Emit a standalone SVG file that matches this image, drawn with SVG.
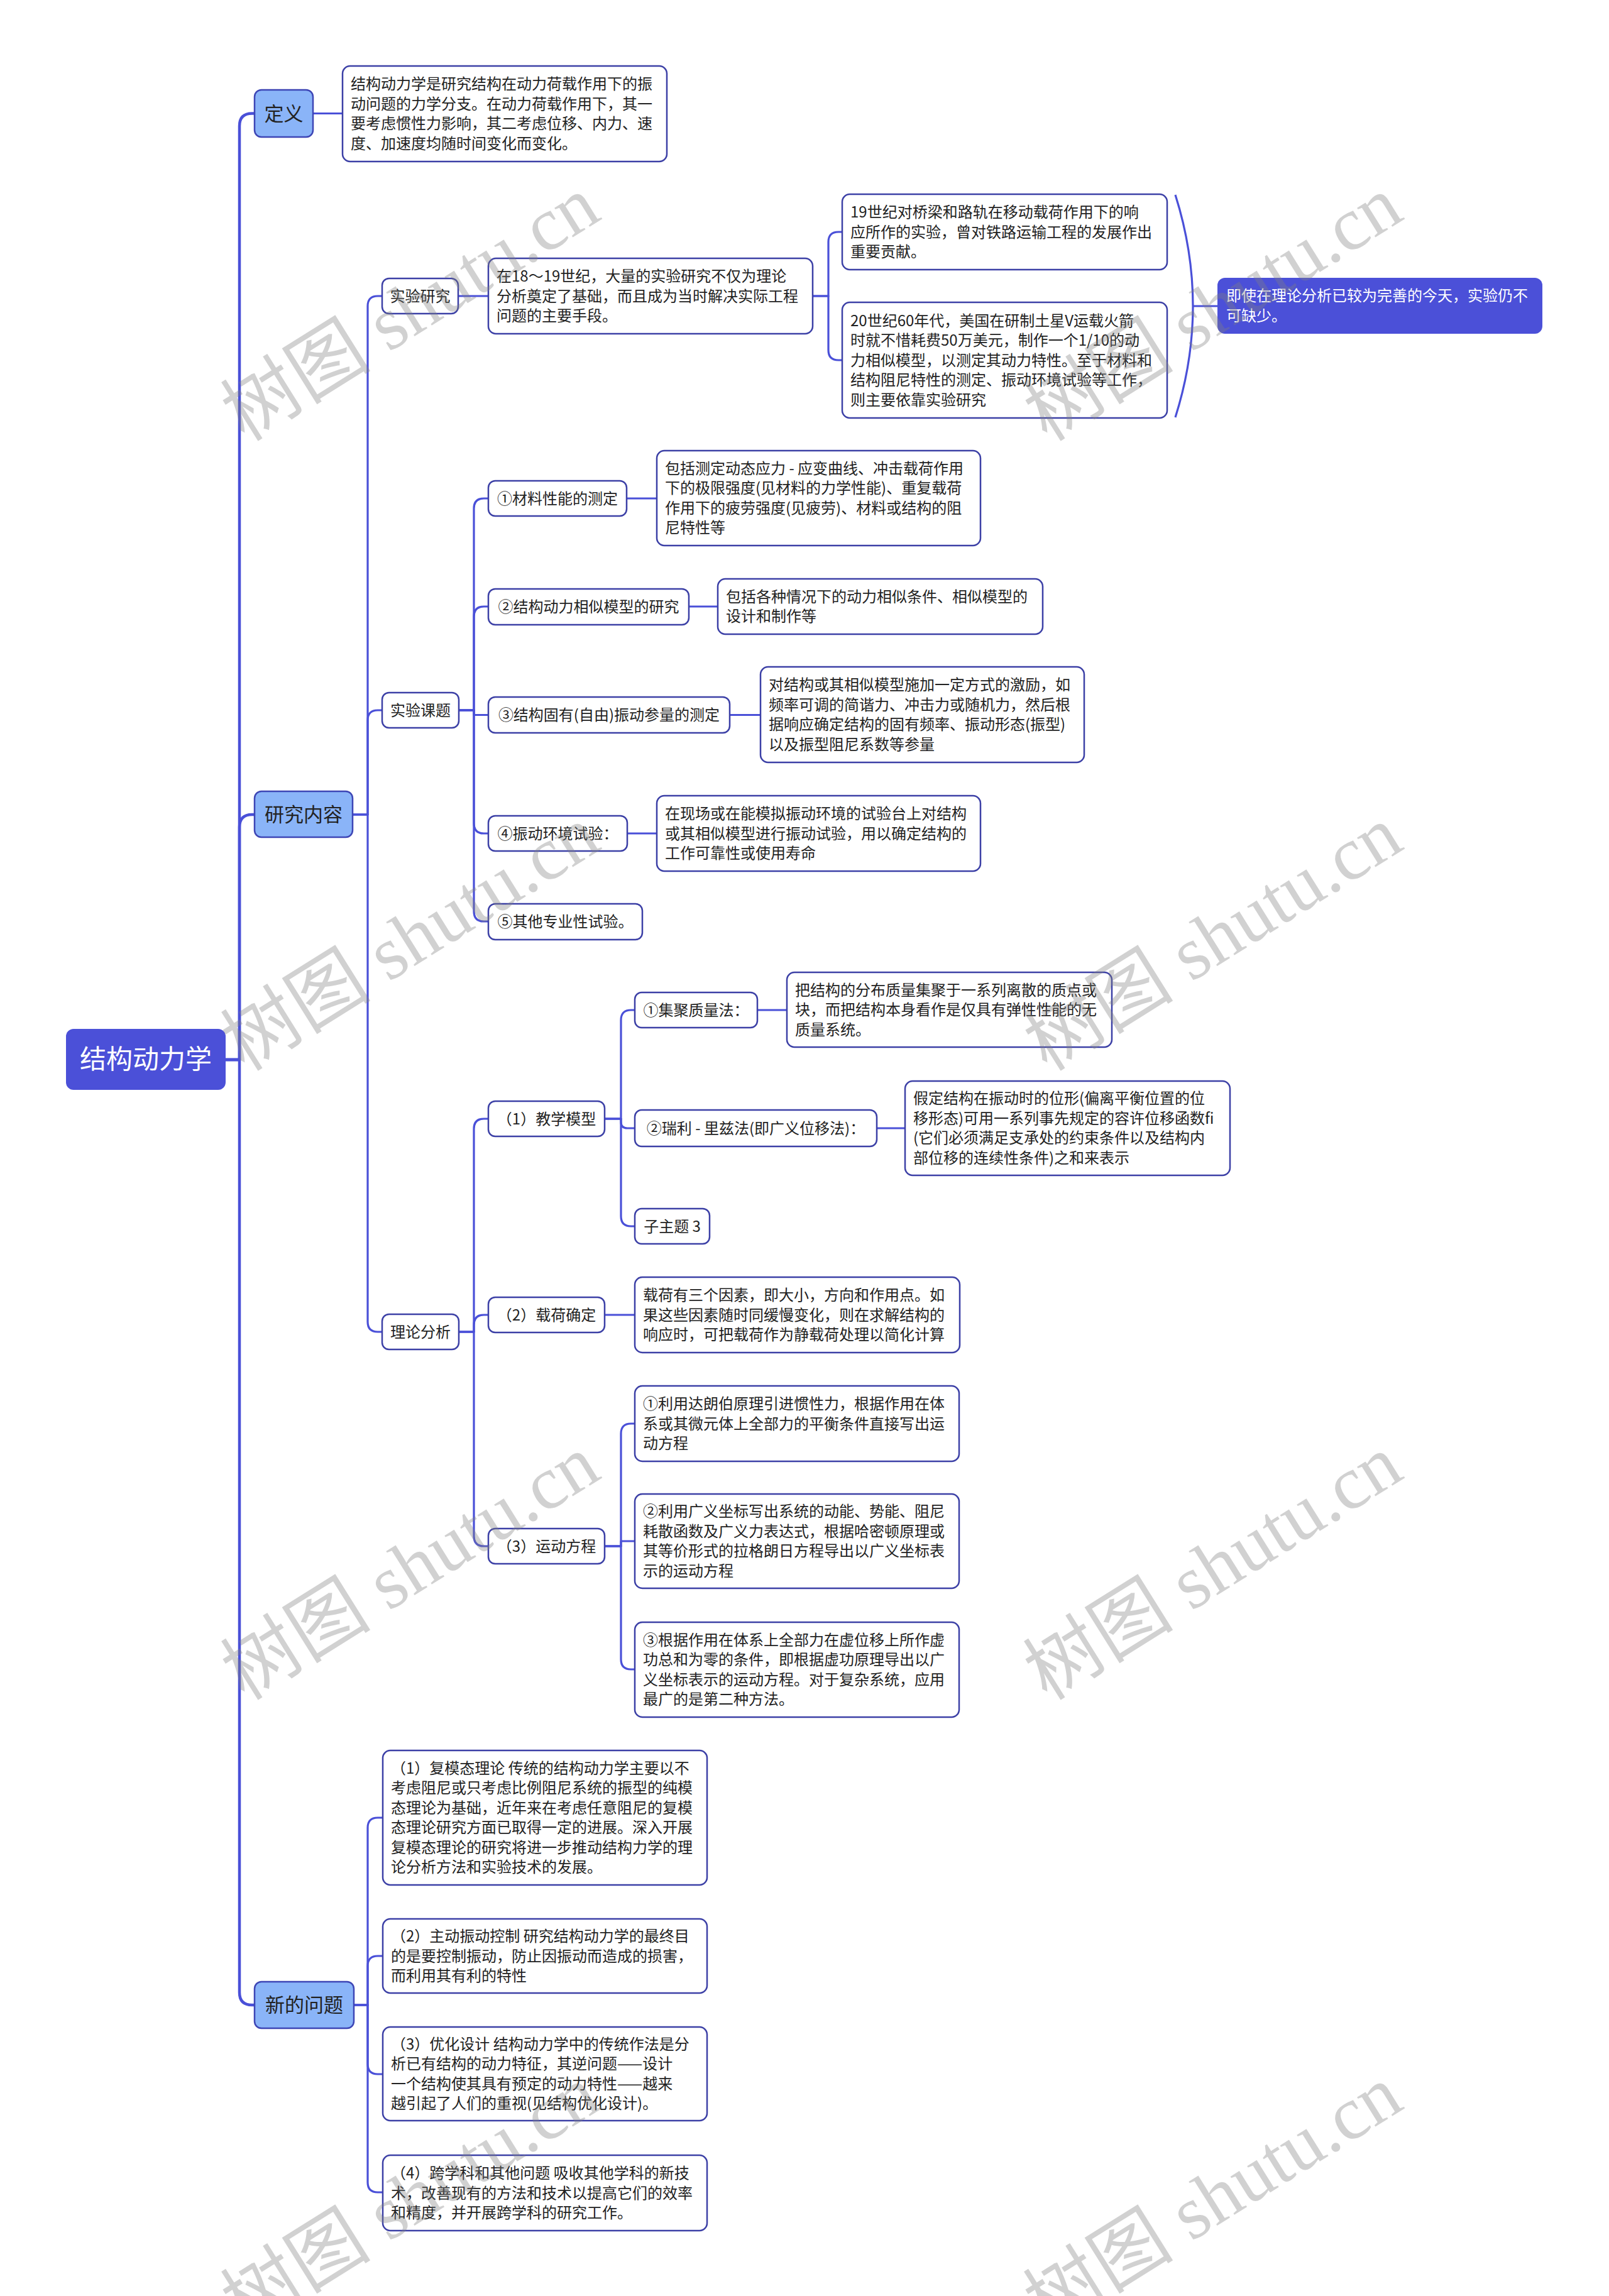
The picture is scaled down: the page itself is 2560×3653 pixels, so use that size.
<svg xmlns="http://www.w3.org/2000/svg" width="2560" height="3653" viewBox="0 0 2560 3653">
<style>
.bg{fill:#ffffff}
.n1{fill:#8ab4f8;stroke:#3d45b5;stroke-width:2.5}
.nw{fill:#ffffff;stroke:#3c40a6;stroke-width:2.5}
.nr{fill:#4b50d8}
.t{font-family:"Noto Sans CJK SC","Noto Sans",sans-serif;font-size:24px;fill:#222222}
.tw{fill:#ffffff}
.tc{text-anchor:middle}
.t1{font-size:31px}
.t0{font-size:42px}
.c{fill:none;stroke:#4a50d8;stroke-width:3.2;stroke-linejoin:round}
.c0{fill:none;stroke:#4a50d8;stroke-width:4.5;stroke-linejoin:round}
.wm{font-family:"Liberation Serif","Noto Sans CJK SC",serif;font-size:120px;fill:#808080;fill-opacity:0.36}
</style>
<rect class="bg" x="0" y="0" width="2560" height="3653"/>
<g id="connectors">
<path class="c0" d="M359,1686 H381 V200.5 Q381,180.5 401,180.5 H405"/>
<path class="c0" d="M359,1686 H381 V1316 Q381,1296 401,1296 H405"/>
<path class="c0" d="M359,1686 H381 V3170 Q381,3190 401,3190 H405"/>
<path class="c" d="M498,180.5 H545"/>
<path class="c" d="M561,1296 H585 V487 Q585,471 601,471 H608"/>
<path class="c" d="M561,1296 H585 V1146 Q585,1130 601,1130 H608"/>
<path class="c" d="M561,1296 H585 V2103 Q585,2119 601,2119 H608"/>
<path class="c" d="M729,471 H777"/>
<path class="c" d="M1293,471 H1318 V385 Q1318,369 1334,369 H1340"/>
<path class="c" d="M1293,471 H1318 V557 Q1318,573 1334,573 H1340"/>
<path class="c" d="M1870,310 Q1926,487 1870,664"/>
<path class="c" d="M1898,487 H1937"/>
<path class="c" d="M730,1130 H754 V809 Q754,793 770,793 H777"/>
<path class="c" d="M730,1130 H754 V981 Q754,965 770,965 H777"/>
<path class="c" d="M730,1130 H754 V1137.5 H777"/>
<path class="c" d="M730,1130 H754 V1310 Q754,1326 770,1326 H777"/>
<path class="c" d="M730,1130 H754 V1450 Q754,1466 770,1466 H777"/>
<path class="c" d="M997,793 H1045"/>
<path class="c" d="M1096,965 H1142"/>
<path class="c" d="M1161,1137.5 H1210"/>
<path class="c" d="M998,1326 H1045"/>
<path class="c" d="M730,2119 H754 V1796 Q754,1780 770,1780 H777"/>
<path class="c" d="M730,2119 H754 V2108 Q754,2092 770,2092 H777"/>
<path class="c" d="M730,2119 H754 V2444 Q754,2460 770,2460 H777"/>
<path class="c" d="M962,1780 H988 V1623 Q988,1607 1004,1607 H1010"/>
<path class="c" d="M962,1780 H988 V1785 Q988,1795 998,1795 H1010"/>
<path class="c" d="M962,1780 H988 V1935 Q988,1951 1004,1951 H1010"/>
<path class="c" d="M1205,1607 H1252"/>
<path class="c" d="M1395,1795 H1440"/>
<path class="c" d="M962,2092 H1010"/>
<path class="c" d="M962,2460 H988 V2281 Q988,2265 1004,2265 H1010"/>
<path class="c" d="M962,2460 H988 V2452 H1010"/>
<path class="c" d="M962,2460 H988 V2640 Q988,2656 1004,2656 H1010"/>
<path class="c" d="M563,3190 H585 V2908 Q585,2892 601,2892 H609"/>
<path class="c" d="M563,3190 H585 V3128 Q585,3112 601,3112 H609"/>
<path class="c" d="M563,3190 H585 V3284 Q585,3300 601,3300 H609"/>
<path class="c" d="M563,3190 H585 V3472 Q585,3488 601,3488 H609"/>
</g>

<g id="root">
<rect class="nr" x="105" y="1637" width="254" height="97" rx="12"/>
<text class="t t0 tw tc" x="232" y="1700">结构动力学</text>
</g>

<g id="n-dingyi">
<rect class="n1" x="405" y="143" width="93" height="75" rx="11"/>
<text class="t t1 tc" x="451.5" y="191.5">定义</text>
</g>
<g id="n-dingyi-text">
<rect class="nw" x="545" y="105" width="516" height="152" rx="12"/>
<text class="t" x="558" y="142">结构动力学是研究结构在动力荷载作用下的振</text>
<text class="t" x="558" y="174">动问题的力学分支。在动力荷载作用下，其一</text>
<text class="t" x="558" y="205">要考虑惯性力影响，其二考虑位移、内力、速</text>
<text class="t" x="558" y="237">度、加速度均随时间变化而变化。</text>
</g>

<g id="n-yanjiu">
<rect class="n1" x="405" y="1259" width="156" height="73" rx="11"/>
<text class="t t1 tc" x="483" y="1307">研究内容</text>
</g>

<g id="n-shiyanyanjiu">
<rect class="nw" x="608" y="443" width="121" height="56" rx="11"/>
<text class="t tc" x="668.5" y="479.5">实验研究</text>
</g>
<g id="n-shiyanyanjiu-text">
<rect class="nw" x="777" y="411" width="516" height="120" rx="12"/>
<text class="t" x="790" y="448">在18～19世纪，大量的实验研究不仅为理论</text>
<text class="t" x="790" y="480">分析奠定了基础，而且成为当时解决实际工程</text>
<text class="t" x="790" y="511">问题的主要手段。</text>
</g>
<g id="n-19c">
<rect class="nw" x="1340" y="309" width="517" height="120" rx="12"/>
<text class="t" x="1353" y="346">19世纪对桥梁和路轨在移动载荷作用下的响</text>
<text class="t" x="1353" y="378">应所作的实验，曾对铁路运输工程的发展作出</text>
<text class="t" x="1353" y="409">重要贡献。</text>
</g>
<g id="n-20c">
<rect class="nw" x="1340" y="481" width="517" height="184" rx="12"/>
<text class="t" x="1353" y="518.5">20世纪60年代，美国在研制土星V运载火箭</text>
<text class="t" x="1353" y="550">时就不惜耗费50万美元，制作一个1/10的动</text>
<text class="t" x="1353" y="581.5">力相似模型，以测定其动力特性。至于材料和</text>
<text class="t" x="1353" y="613">结构阻尼特性的测定、振动环境试验等工作，</text>
<text class="t" x="1353" y="644.5">则主要依靠实验研究</text>
</g>
<g id="n-summary">
<rect class="nr" x="1937" y="442" width="517" height="89" rx="12"/>
<text class="t tw" x="1951" y="479">即使在理论分析已较为完善的今天，实验仍不</text>
<text class="t tw" x="1951" y="511">可缺少。</text>
</g>

<g id="n-keti">
<rect class="nw" x="608" y="1102" width="122" height="56" rx="11"/>
<text class="t tc" x="669" y="1138.5">实验课题</text>
</g>
<g id="n-k1">
<rect class="nw" x="777" y="765" width="220" height="56" rx="11"/>
<text class="t tc" x="887" y="801.5">①材料性能的测定</text>
</g>
<g id="n-k1-text">
<rect class="nw" x="1045" y="717" width="515" height="151" rx="12"/>
<text class="t" x="1058" y="754">包括测定动态应力 - 应变曲线、冲击载荷作用</text>
<text class="t" x="1058" y="785">下的极限强度(见材料的力学性能)、重复载荷</text>
<text class="t" x="1058" y="817">作用下的疲劳强度(见疲劳)、材料或结构的阻</text>
<text class="t" x="1058" y="848">尼特性等</text>
</g>
<g id="n-k2">
<rect class="nw" x="777" y="937" width="319" height="57" rx="11"/>
<text class="t tc" x="936.5" y="973.5">②结构动力相似模型的研究</text>
</g>
<g id="n-k2-text">
<rect class="nw" x="1142" y="921" width="517" height="88" rx="12"/>
<text class="t" x="1155" y="958">包括各种情况下的动力相似条件、相似模型的</text>
<text class="t" x="1155" y="989">设计和制作等</text>
</g>
<g id="n-k3">
<rect class="nw" x="777" y="1109" width="384" height="57" rx="11"/>
<text class="t tc" x="969" y="1146">③结构固有(自由)振动参量的测定</text>
</g>
<g id="n-k3-text">
<rect class="nw" x="1210" y="1061" width="515" height="152" rx="12"/>
<text class="t" x="1223" y="1098">对结构或其相似模型施加一定方式的激励，如</text>
<text class="t" x="1223" y="1130">频率可调的简谐力、冲击力或随机力，然后根</text>
<text class="t" x="1223" y="1161">据响应确定结构的固有频率、振动形态(振型)</text>
<text class="t" x="1223" y="1193">以及振型阻尼系数等参量</text>
</g>
<g id="n-k4">
<rect class="nw" x="777" y="1298" width="221" height="56" rx="11"/>
<text class="t tc" x="887.5" y="1334.5">④振动环境试验：</text>
</g>
<g id="n-k4-text">
<rect class="nw" x="1045" y="1266" width="515" height="120" rx="12"/>
<text class="t" x="1058" y="1303">在现场或在能模拟振动环境的试验台上对结构</text>
<text class="t" x="1058" y="1335">或其相似模型进行振动试验，用以确定结构的</text>
<text class="t" x="1058" y="1366">工作可靠性或使用寿命</text>
</g>
<g id="n-k5">
<rect class="nw" x="777" y="1438" width="245" height="57" rx="11"/>
<text class="t tc" x="899.5" y="1475">⑤其他专业性试验。</text>
</g>

<g id="n-lilun">
<rect class="nw" x="608" y="2091" width="122" height="56" rx="11"/>
<text class="t tc" x="669" y="2127.5">理论分析</text>
</g>
<g id="n-l1">
<rect class="nw" x="777" y="1752" width="185" height="56" rx="11"/>
<text class="t tc" x="869.5" y="1788.5">（1）教学模型</text>
</g>
<g id="n-l1a">
<rect class="nw" x="1010" y="1579" width="195" height="56" rx="11"/>
<text class="t tc" x="1107.5" y="1615.5">①集聚质量法：</text>
</g>
<g id="n-l1a-text">
<rect class="nw" x="1252" y="1547" width="517" height="119" rx="12"/>
<text class="t" x="1265" y="1583.5">把结构的分布质量集聚于一系列离散的质点或</text>
<text class="t" x="1265" y="1615">块，而把结构本身看作是仅具有弹性性能的无</text>
<text class="t" x="1265" y="1646.5">质量系统。</text>
</g>
<g id="n-l1b">
<rect class="nw" x="1010" y="1766" width="385" height="58" rx="11"/>
<text class="t tc" x="1202.5" y="1803.5">②瑞利 - 里兹法(即广义位移法)：</text>
</g>
<g id="n-l1b-text">
<rect class="nw" x="1440" y="1720" width="517" height="150" rx="12"/>
<text class="t" x="1453" y="1756">假定结构在振动时的位形(偏离平衡位置的位</text>
<text class="t" x="1453" y="1788">移形态)可用一系列事先规定的容许位移函数fi</text>
<text class="t" x="1453" y="1819">(它们必须满足支承处的约束条件以及结构内</text>
<text class="t" x="1453" y="1851">部位移的连续性条件)之和来表示</text>
</g>
<g id="n-l1c">
<rect class="nw" x="1010" y="1923" width="119" height="56" rx="11"/>
<text class="t tc" x="1069.5" y="1959.5">子主题 3</text>
</g>
<g id="n-l2">
<rect class="nw" x="777" y="2064" width="185" height="56" rx="11"/>
<text class="t tc" x="869.5" y="2100.5">（2）载荷确定</text>
</g>
<g id="n-l2-text">
<rect class="nw" x="1010" y="2032" width="517" height="120" rx="12"/>
<text class="t" x="1023" y="2069">载荷有三个因素，即大小，方向和作用点。如</text>
<text class="t" x="1023" y="2101">果这些因素随时同缓慢变化，则在求解结构的</text>
<text class="t" x="1023" y="2132">响应时，可把载荷作为静载荷处理以简化计算</text>
</g>
<g id="n-l3">
<rect class="nw" x="777" y="2432" width="185" height="56" rx="11"/>
<text class="t tc" x="869.5" y="2468.5">（3）运动方程</text>
</g>
<g id="n-l3a">
<rect class="nw" x="1010" y="2205" width="516" height="120" rx="12"/>
<text class="t" x="1023" y="2242">①利用达朗伯原理引进惯性力，根据作用在体</text>
<text class="t" x="1023" y="2274">系或其微元体上全部力的平衡条件直接写出运</text>
<text class="t" x="1023" y="2305">动方程</text>
</g>
<g id="n-l3b">
<rect class="nw" x="1010" y="2377" width="516" height="150" rx="12"/>
<text class="t" x="1023" y="2413">②利用广义坐标写出系统的动能、势能、阻尼</text>
<text class="t" x="1023" y="2445">耗散函数及广义力表达式，根据哈密顿原理或</text>
<text class="t" x="1023" y="2476">其等价形式的拉格朗日方程导出以广义坐标表</text>
<text class="t" x="1023" y="2508">示的运动方程</text>
</g>
<g id="n-l3c">
<rect class="nw" x="1010" y="2581" width="516" height="151" rx="12"/>
<text class="t" x="1023" y="2618">③根据作用在体系上全部力在虚位移上所作虚</text>
<text class="t" x="1023" y="2649">功总和为零的条件，即根据虚功原理导出以广</text>
<text class="t" x="1023" y="2681">义坐标表示的运动方程。对于复杂系统，应用</text>
<text class="t" x="1023" y="2712">最广的是第二种方法。</text>
</g>

<g id="n-xin">
<rect class="n1" x="405" y="3153" width="158" height="74" rx="11"/>
<text class="t t1 tc" x="484" y="3201">新的问题</text>
</g>
<g id="n-x1">
<rect class="nw" x="609" y="2785" width="516" height="214" rx="12"/>
<text class="t" x="622" y="2822">（1）复模态理论 传统的结构动力学主要以不</text>
<text class="t" x="622" y="2853">考虑阻尼或只考虑比例阻尼系统的振型的纯模</text>
<text class="t" x="622" y="2885">态理论为基础，近年来在考虑任意阻尼的复模</text>
<text class="t" x="622" y="2916">态理论研究方面已取得一定的进展。深入开展</text>
<text class="t" x="622" y="2948">复模态理论的研究将进一步推动结构力学的理</text>
<text class="t" x="622" y="2979">论分析方法和实验技术的发展。</text>
</g>
<g id="n-x2">
<rect class="nw" x="609" y="3053" width="516" height="118" rx="12"/>
<text class="t" x="622" y="3089">（2）主动振动控制 研究结构动力学的最终目</text>
<text class="t" x="622" y="3121">的是要控制振动，防止因振动而造成的损害，</text>
<text class="t" x="622" y="3152">而利用其有利的特性</text>
</g>
<g id="n-x3">
<rect class="nw" x="609" y="3225" width="516" height="149" rx="12"/>
<text class="t" x="622" y="3261">（3）优化设计 结构动力学中的传统作法是分</text>
<text class="t" x="622" y="3292">析已有结构的动力特征，其逆问题——设计</text>
<text class="t" x="622" y="3324">一个结构使其具有预定的动力特性——越来</text>
<text class="t" x="622" y="3355">越引起了人们的重视(见结构优化设计)。</text>
</g>
<g id="n-x4">
<rect class="nw" x="609" y="3429" width="516" height="120" rx="12"/>
<text class="t" x="622" y="3466">（4）跨学科和其他问题 吸收其他学科的新技</text>
<text class="t" x="622" y="3498">术，改善现有的方法和技术以提高它们的效率</text>
<text class="t" x="622" y="3529">和精度，并开展跨学科的研究工作。</text>
</g>

<g id="watermarks">
<text class="wm" x="389" y="704" transform="rotate(-32 389 704)">树图 shutu.cn</text>
<text class="wm" x="1666" y="704" transform="rotate(-32 1666 704)">树图 shutu.cn</text>
<text class="wm" x="389" y="1706" transform="rotate(-32 389 1706)">树图 shutu.cn</text>
<text class="wm" x="1666" y="1706" transform="rotate(-32 1666 1706)">树图 shutu.cn</text>
<text class="wm" x="389" y="2707" transform="rotate(-32 389 2707)">树图 shutu.cn</text>
<text class="wm" x="1666" y="2707" transform="rotate(-32 1666 2707)">树图 shutu.cn</text>
<text class="wm" x="389" y="3710" transform="rotate(-32 389 3710)">树图 shutu.cn</text>
<text class="wm" x="1666" y="3710" transform="rotate(-32 1666 3710)">树图 shutu.cn</text>
</g>
</svg>
